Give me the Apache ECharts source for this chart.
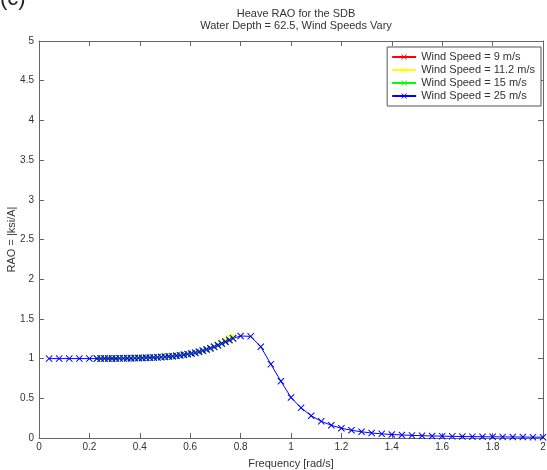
<!DOCTYPE html>
<html>
<head>
<meta charset="utf-8">
<script src="https://cdn.jsdelivr.net/npm/echarts@6/dist/echarts.min.js"></script>
<style>
  html, body { margin: 0; padding: 0; background: #fff; }
  #chart { width: 547px; height: 470px; }
</style>
</head>
<body>
<div id="chart"></div>
<script>
// Heave RAO of the SDB at 62.5 m water depth, four wind speeds.

// Frequencies [rad/s] for the 25 m/s run (coarse at the ends, fine through the rise)
const freq25 = [0.04, 0.08, 0.12, 0.16, 0.20,
  0.23, 0.245, 0.26, 0.275, 0.29, 0.305, 0.32, 0.335, 0.35, 0.365, 0.38, 0.395,
  0.41, 0.425, 0.44, 0.455, 0.47, 0.485, 0.50, 0.515, 0.53, 0.545, 0.56, 0.575,
  0.59, 0.605, 0.62, 0.635, 0.65, 0.665, 0.68, 0.695, 0.71, 0.725, 0.74, 0.755, 0.77,
  0.80, 0.84, 0.88, 0.92, 0.96, 1.00, 1.04, 1.08, 1.12, 1.16, 1.20, 1.24, 1.28,
  1.32, 1.36, 1.40, 1.44, 1.48, 1.52, 1.56, 1.60, 1.64, 1.68, 1.72, 1.76, 1.80,
  1.84, 1.88, 1.92, 1.96, 2.00];
const rao25 = [1.000, 1.000, 1.000, 1.000, 1.000,
  1.000, 1.000, 1.001, 1.001, 1.002, 1.002, 1.003, 1.003, 1.004, 1.005, 1.006, 1.007,
  1.008, 1.010, 1.012, 1.014, 1.016, 1.019, 1.022, 1.026, 1.030, 1.035, 1.041, 1.048,
  1.056, 1.065, 1.075, 1.087, 1.100, 1.114, 1.130, 1.148, 1.168, 1.190, 1.212, 1.234, 1.255,
  1.285, 1.280, 1.150, 0.930, 0.715, 0.510, 0.380, 0.280, 0.210, 0.160, 0.122, 0.098, 0.078,
  0.063, 0.052, 0.044, 0.038, 0.033, 0.029, 0.026, 0.023, 0.021, 0.019, 0.017, 0.016, 0.015,
  0.014, 0.013, 0.012, 0.011, 0.010];

// Lower wind speeds: computed only over the fine frequency band
const freqLow = [0.23, 0.245, 0.26, 0.275, 0.29, 0.305, 0.32, 0.335, 0.35, 0.365, 0.38, 0.395,
  0.41, 0.425, 0.44, 0.455, 0.47, 0.485, 0.50, 0.515, 0.53, 0.545, 0.56, 0.575,
  0.59, 0.605, 0.62, 0.635, 0.65, 0.665, 0.68, 0.695, 0.71, 0.725, 0.74, 0.755, 0.77];
const rao9 = [1.000, 1.000, 1.001, 1.001, 1.002, 1.002, 1.003, 1.003, 1.004, 1.005, 1.006, 1.007,
  1.008, 1.010, 1.012, 1.014, 1.016, 1.019, 1.022, 1.026, 1.030, 1.035, 1.041, 1.048,
  1.056, 1.065, 1.075, 1.087, 1.100, 1.114, 1.130, 1.148, 1.168, 1.190, 1.212, 1.234, 1.255];
const rao11 = [1.000, 1.000, 1.001, 1.001, 1.002, 1.002, 1.003, 1.003, 1.004, 1.005, 1.006, 1.007,
  1.008, 1.010, 1.012, 1.014, 1.016, 1.019, 1.022, 1.026, 1.030, 1.035, 1.041, 1.048,
  1.056, 1.065, 1.075, 1.087, 1.100, 1.114, 1.130, 1.150, 1.172, 1.205, 1.238, 1.265, 1.282];
const rao15 = [1.000, 1.000, 1.001, 1.001, 1.002, 1.002, 1.003, 1.003, 1.004, 1.005, 1.006, 1.007,
  1.008, 1.010, 1.012, 1.014, 1.016, 1.019, 1.022, 1.026, 1.030, 1.035, 1.041, 1.048,
  1.056, 1.065, 1.075, 1.087, 1.100, 1.114, 1.130, 1.148, 1.168, 1.190, 1.212, 1.234, 1.255];

const seriesNames = ['Wind Speed = 9 m/s', 'Wind Speed = 11.2 m/s', 'Wind Speed = 15 m/s', 'Wind Speed = 25 m/s'];
const seriesColors = ['#ff0000', '#ffff00', '#00ff00', '#0000ff'];

const xTicks = { min: 0, max: 2, interval: 0.2 };
const yTicks = { min: 0, max: 5, interval: 0.5 };

const pairs = (xs, ys) => xs.map((x, i) => [x, ys[i]]);
const cross = 'path://M0,1L1,0L5,4L9,0L10,1L6,5L10,9L9,10L5,6L1,10L0,9L4,5Z';
const font = '"Liberation Sans", Arial, sans-serif';
const textColor = '#333';
const frameColor = '#666';

const lineSeries = (name, color, data) => ({
  name, type: 'line', data,
  xAxisIndex: 0, yAxisIndex: 0,
  symbol: cross, symbolSize: 7, showAllSymbol: true,
  smooth: false,
  lineStyle: { color, width: 1 },
  itemStyle: { color, borderWidth: 0 },
  emphasis: { disabled: true },
  animation: false
});

const chart = echarts.init(document.getElementById('chart'), null, { renderer: 'canvas' });

const tickStyle = { show: true, inside: true, length: 5, lineStyle: { color: frameColor, width: 1 } };
const lineStyle = { show: true, onZero: false, lineStyle: { color: frameColor, width: 1 } };

chart.setOption({
  backgroundColor: '#fff',
  animation: false,
  title: {
    text: 'Heave RAO for the SDB\nWater Depth = 62.5, Wind Speeds Vary',
    left: 291, top: 3, textAlign: 'center',
    textStyle: { fontFamily: font, fontSize: 11, fontWeight: 'normal', color: textColor, lineHeight: 12 }
  },
  graphic: [{
    type: 'text', left: 0, top: -12,
    style: { text: '(c)', fontFamily: font, fontSize: 22, fill: '#222' }
  }],
  legend: {
    orient: 'vertical',
    right: 6, top: 47,
    padding: [4, 6, 4, 4],
    itemGap: 1,
    itemWidth: 24, itemHeight: 7,
    backgroundColor: '#fff',
    borderColor: '#555', borderWidth: 1,
    textStyle: { fontFamily: font, fontSize: 11, color: textColor, padding: [0, 0, 0, 0], lineHeight: 12 },
    data: seriesNames
  },
  grid: { left: 39, right: 4, top: 41, bottom: 32, containLabel: false, outerBoundsMode: 'none' },
  xAxis: [{
    type: 'value', position: 'bottom',
    min: xTicks.min, max: xTicks.max, interval: xTicks.interval,
    name: 'Frequency [rad/s]', nameLocation: 'middle', nameGap: 20, nameMoveOverlap: false,
    nameTextStyle: { fontFamily: font, fontSize: 11, color: textColor },
    axisLine: lineStyle, axisTick: tickStyle,
    axisLabel: { fontFamily: font, fontSize: 10, color: textColor, margin: 4 },
    splitLine: { show: false }
  }, {
    type: 'value', position: 'top',
    min: xTicks.min, max: xTicks.max, interval: xTicks.interval,
    axisLine: lineStyle, axisTick: tickStyle,
    axisLabel: { show: false }, splitLine: { show: false }
  }],
  yAxis: [{
    type: 'value', position: 'left',
    min: yTicks.min, max: yTicks.max, interval: yTicks.interval,
    name: 'RAO = |ksi/A|', nameLocation: 'middle', nameGap: 22, nameRotate: 90, nameMoveOverlap: false,
    nameTextStyle: { fontFamily: font, fontSize: 11, color: textColor },
    axisLine: lineStyle, axisTick: tickStyle,
    axisLabel: { fontFamily: font, fontSize: 10, color: textColor, margin: 5 },
    splitLine: { show: false }
  }, {
    type: 'value', position: 'right',
    min: yTicks.min, max: yTicks.max, interval: yTicks.interval,
    axisLine: lineStyle, axisTick: tickStyle,
    axisLabel: { show: false }, splitLine: { show: false }
  }],
  series: [
    lineSeries(seriesNames[0], seriesColors[0], pairs(freqLow, rao9)),
    lineSeries(seriesNames[1], seriesColors[1], pairs(freqLow, rao11)),
    lineSeries(seriesNames[2], seriesColors[2], pairs(freqLow, rao15)),
    lineSeries(seriesNames[3], seriesColors[3], pairs(freq25, rao25))
  ]
});
</script>
</body>
</html>
